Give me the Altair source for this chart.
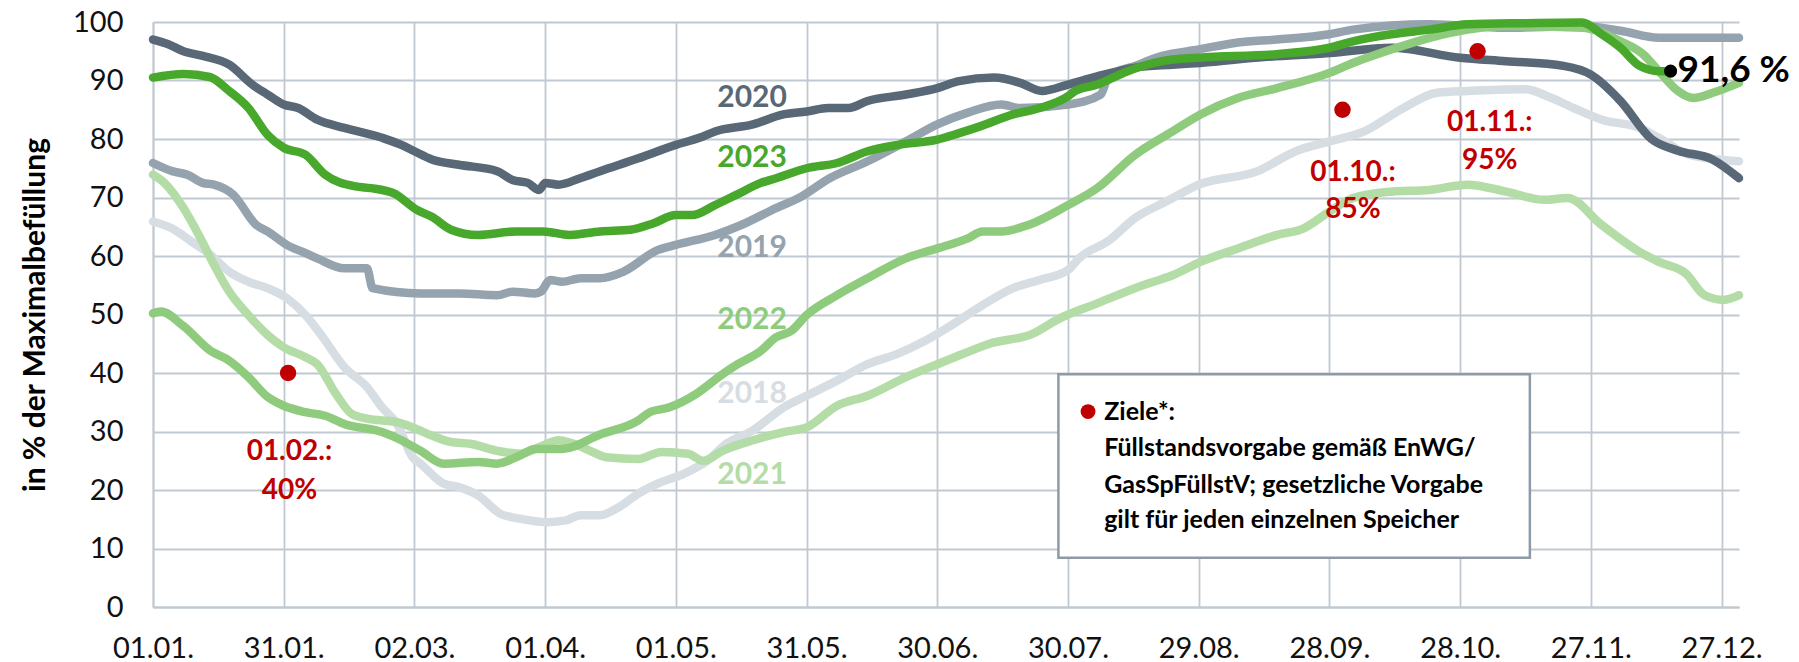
import altair as alt
import pandas as pd

# ---------------- data ----------------
years = ["2018", "2019", "2020", "2021", "2022", "2023"]
colors = ["#d6dde3", "#95a3ae", "#586876", "#b4dca6", "#8fcb7d", "#48a82b"]

days_2018 = [0, 4.4, 8.8, 13.2, 17.5, 21.9, 26.3, 30.7, 35, 38.6, 43.9, 49.1, 52.6, 56, 59.6, 61.4, 66.7, 70.2,
             74.6, 79.8, 84.2, 90.4, 94.7, 98.2, 102.6, 107, 111.4, 115.8, 121.9, 127.2, 131.6, 137.7, 144.7, 150,
             157, 164, 171, 177.2, 183.3, 190.4, 197.4, 203.5, 210, 212.5, 219.5, 225.4, 232.5, 240, 253.5, 262.3,
             270, 278, 287, 294.7, 301.7, 314.9, 321, 326, 332.5, 341.2, 345.6, 352.6, 364]
vals_2018 = [65.9, 64.7, 62.5, 60.2, 57.3, 55.6, 54.5, 52.8, 49.9, 46.5, 41, 37.6, 34.1, 31.3, 25.6, 24.5, 21.1, 20.5,
             19.1, 15.9, 15.1, 14.5, 14.8, 15.7, 15.7, 17.1, 19.4, 21.1, 22.8, 25, 27.9, 30.2, 34.1, 36.1,
             38.7, 41.5, 43.3, 45.5, 48.2, 51.6, 54.5, 55.9, 57.6, 59.6, 62.7, 66.5, 69.3, 72.2, 74.5, 77.9,
             79.6, 81.3, 85.3, 87.9, 88.2, 88.5, 87, 85.3, 83.3, 81.9, 80.2, 77.3, 76.2]

days_2019 = [0, 4.4, 7.9, 11.4, 14, 18.4, 23.7, 26.3, 30.7, 35, 37.7, 43.9, 49.1, 50.4, 61.4, 70.2, 79, 82.5, 87.7,
             89, 91.2, 93.9, 98.2, 102.6, 107.9, 115.8, 120, 129, 135, 143, 148.2, 155.3, 164, 172.8, 180, 187,
             194.7, 199, 210, 217.5, 219.3, 225.4, 231.6, 240, 249, 258, 270, 275.4, 293, 310.5, 328, 336.8,
             345.6, 354.4, 364]
vals_2019 = [75.9, 74.5, 73.9, 72.5, 72.2, 70.5, 65.3, 64.2, 61.9, 60.5, 59.6, 57.9, 57.9, 54.5, 53.6, 53.6, 53.3,
             53.9, 53.6, 53.9, 55.9, 55.6, 56.2, 56.2, 57.3, 61, 61.9, 63.6, 65.3, 68.2, 69.9, 73.3, 76.2, 79.6,
             82.5, 84.5, 85.9, 85.3, 85.9, 87.6, 90.7, 92.5, 94.2, 95.3, 96.5, 97, 97.9, 98.7, 99.6, 99, 99.3,
             98.5, 97.3, 97.3, 97.3]

days_2020 = [0, 3.5, 7, 11.4, 17.5, 22.8, 26.3, 30, 33.3, 37.7, 43.9, 52.6, 57, 60, 64, 70.2, 79, 82.5, 86, 88.6,
             90, 93, 98, 102.6, 111.4, 120, 125.4, 129, 137.7, 144.7, 150, 155, 159.6, 164, 172.8, 180, 185, 193,
             199, 204, 210, 216.7, 225.4, 234, 240.4, 255, 270, 284.2, 300, 310.5, 323.7, 330, 336.8, 343.9, 350,
             357.9, 364]
vals_2020 = [97, 96.2, 95, 94.2, 92.7, 89.3, 87.6, 85.9, 85.3, 83.3, 81.9, 80.2, 79, 77.9, 76.5, 75.6, 74.5, 73,
             72.5, 71.3, 72.5, 72.2, 73.3, 74.5, 76.7, 79, 80.2, 81.3, 82.5, 84.2, 84.7, 85.3, 85.3, 86.5, 87.6,
             88.7, 89.9, 90.5, 89.6, 88.2, 89.3, 90.7, 92.2, 92.7, 93, 94, 94.7, 95.6, 93.9, 93.3, 92.5, 91, 86.5,
             80, 78, 76.5, 73.3]

days_2021 = [0, 2.6, 7, 10.5, 14, 17.5, 21.9, 26.3, 30, 35, 37.7, 42, 45.6, 49.1, 56, 59.6, 64, 68.4, 72.8, 79,
             84.2, 89.5, 93, 96.5, 100.9, 104, 111.4, 116.7, 122.8, 126.3, 130.7, 137.7, 144.7, 150, 157, 164,
             172.8, 180, 186, 192, 201.8, 208, 216.7, 227.2, 234, 240.4, 249, 258, 264, 270, 275.4, 284.2, 293,
             301.7, 310.5, 319.3, 324.6, 332.5, 341.2, 345.6, 351.8, 356.1, 360.5, 364]
vals_2021 = [73.9, 72.5, 68.2, 63.6, 58.5, 53.9, 49.9, 46.5, 44.4, 42.7, 41.5, 36.4, 33, 32.2, 31.6, 30.7, 29.3,
             28.2, 27.9, 26.7, 26.2, 27.6, 28.5, 27.9, 26.5, 25.6, 25.3, 26.5, 26.2, 25, 26.7, 28.5, 29.9, 30.7,
             34.4, 36.1, 39.3, 41.5, 43.3, 45, 46.7, 49.3, 51.9, 55, 56.7, 59, 61.3, 63.6, 64.7, 67.6, 69.9, 71,
             71.3, 72.2, 71, 69.6, 69.9, 65.3, 60.7, 59, 57, 53.3, 52.5, 53.3]

days_2022 = [0, 1.8, 7, 13.2, 17.5, 21.9, 26.3, 30, 35, 39.5, 43.9, 52.6, 57, 61.4, 66.7, 74.6, 79, 84.2, 87.7,
             93.9, 102.6, 111.4, 114, 118.4, 124.6, 130.7, 134.2, 139.5, 143, 146.5, 150, 157, 164, 172.8, 180,
             187, 190.4, 194.7, 200.9, 210, 216.7, 225.4, 234, 240.4, 249, 258, 270, 275.4, 284.2, 293, 301.7,
             310.5, 328, 336.8, 342, 345.6, 350, 353.5, 358, 364]
vals_2022 = [50.2, 50.5, 48, 43.8, 42.1, 39.3, 35.9, 34.4, 33.3, 32.7, 31.3, 29.9, 28.5, 26.7, 24.5, 24.8, 24.5,
             25.9, 27, 27, 29.5, 31.9, 33.3, 34.1, 36.4, 39.8, 41.5, 43.8, 46.1, 47.2, 49.9, 53.3, 56.2, 59.6,
             61.3, 63, 64.2, 64.2, 65.3, 68.7, 71.6, 77.3, 81.3, 84.2, 87, 88.7, 91.3, 93, 95.3, 97.3, 98.7, 99.3,
             99, 96.7, 94.5, 91.6, 88.2, 87, 87.9, 89.6]

days_2023 = [0, 7, 13, 17.5, 21.9, 26.3, 30, 35, 39.5, 46.5, 50, 55.3, 60.5, 64, 68.4, 74.6, 83.3, 89.5, 95.6,
             102.6, 109.6, 114.9, 120, 123.7, 129, 134, 139.5, 143, 150, 157, 164, 171, 180, 185, 190, 197.4,
             203.5, 210, 211.6, 216.7, 223.7, 231.6, 240, 257.9, 270, 275.4, 284.2, 293, 301.7, 315, 328, 332.5,
             336.8, 341.2, 345.6, 348]
vals_2023 = [90.5, 91.1, 90.6, 88.2, 85.3, 80.7, 78.5, 77.3, 73.9, 71.9, 71.6, 70.7, 67.9, 66.7, 64.5, 63.6, 64.2,
             64.2, 63.6, 64.2, 64.5, 65.6, 67, 67, 68.7, 70.5, 72.5, 73.3, 75, 75.9, 77.9, 79, 79.9, 81, 82.2,
             84.2, 85.3, 87.3, 88.2, 89.3, 91.6, 93.3, 93.9, 94.5, 95.6, 96.7, 97.9, 98.7, 99.6, 99.8, 99.9, 97.9,
             95.6, 92.5, 91.6, 91.6]

series_days = [days_2018, days_2019, days_2020, days_2021, days_2022, days_2023]
series_vals = [vals_2018, vals_2019, vals_2020, vals_2021, vals_2022, vals_2023]

# x-axis tick labels (every 30 days)
xtick_days = [0, 30, 60, 90, 120, 150, 180, 210, 240, 270, 300, 330, 360]
xtick_labels = ["01.01.", "31.01.", "02.03.", "01.04.", "01.05.", "31.05.", "30.06.",
                "30.07.", "29.08.", "28.09.", "28.10.", "27.11.", "27.12."]

# year labels in the chart
label_years = ["2020", "2023", "2019", "2022", "2018", "2021"]
label_day = [137.5, 137.5, 137.5, 137.5, 137.5, 137.5]
label_val = [87.0, 76.7, 61.3, 49.0, 36.4, 22.5]

# targets (Ziele)
target_days = [31, 273, 304]
target_vals = [40, 85, 95]
target_text_1 = ["01.02.:", "01.10.:", "01.11.:"]
target_text_2 = ["40%", "85%", "95%"]
target_text_day = [31.3, 275.4, 306.8]
target_text_val1 = [26.5, 74.2, 82.7]
target_text_val2 = [19.9, 67.9, 76.2]

# current value
current_day = [348.3]
current_val = [91.6]
current_text = ["91,6 %"]

# legend box
legend_lines = ["Ziele*:", "Füllstandsvorgabe gemäß EnWG/",
                "GasSpFüllstV; gesetzliche Vorgabe", "gilt für jeden einzelnen Speicher"]
legend_line_vals = [33.4, 27.1, 20.9, 14.9]
legend_text_day = 218.3
legend_dot = (214.6, 33.4)
legend_box = (207.8, 316.0, 8.4, 39.8)

# ---------------- build tables ----------------
rows = []
for y, ds, vs in zip(years, series_days, series_vals):
    for d, v in zip(ds, vs):
        rows.append({"year": y, "day": d, "value": v})
df = pd.DataFrame(rows)

FONT = "Lato"
GRID = "#c0c9d1"
RED = "#c00000"

xscale = alt.Scale(domain=[0, 364], nice=False, zero=False)
yscale = alt.Scale(domain=[0, 100], nice=False)
cscale = alt.Scale(domain=years, range=colors)

label_expr = "[" + ",".join("'%s'" % s for s in xtick_labels) + "][round(datum.value/30)]"

base_x = alt.X("day:Q", scale=xscale,
               axis=alt.Axis(values=xtick_days, labelExpr=label_expr, title=None,
                             grid=True, ticks=False, labelPadding=27, labelFontSize=29,
                             labelFont=FONT, labelColor="#111111", labelFlush=False))
base_y = alt.Y("value:Q", scale=yscale,
               axis=alt.Axis(values=list(range(0, 101, 10)), title="in % der Maximalbefüllung",
                             grid=True, ticks=False, labelPadding=30, labelFontSize=29,
                             labelFont=FONT, labelColor="#111111",
                             titleFont=FONT, titleFontSize=30, titleFontWeight="bold",
                             titleColor="#000000", titlePadding=22))

# legend box rect
box_df = pd.DataFrame([{"x": legend_box[0], "x2": legend_box[1], "y": legend_box[2], "y2": legend_box[3]}])
box = alt.Chart(box_df).mark_rect(fill="white", stroke="#8e9aa5", strokeWidth=2.5).encode(
    x=alt.X("x:Q", scale=xscale), x2="x2:Q",
    y=alt.Y("y:Q", scale=yscale), y2="y2:Q")

lines = alt.Chart(df).mark_line(strokeWidth=8.5, interpolate="monotone", strokeCap="round",
                                strokeJoin="round").encode(
    x=base_x, y=base_y,
    color=alt.Color("year:N", scale=cscale, legend=None),
    order=alt.Order("day:Q"))

lab_df = pd.DataFrame({"year": label_years, "day": label_day, "value": label_val})
labels = alt.Chart(lab_df).mark_text(font=FONT, fontSize=30, fontWeight="bold", align="center",
                                     baseline="middle").encode(
    x=alt.X("day:Q", scale=xscale), y=alt.Y("value:Q", scale=yscale),
    text="year:N", color=alt.Color("year:N", scale=cscale, legend=None))

tgt_df = pd.DataFrame({"day": target_days, "value": target_vals})
targets = alt.Chart(tgt_df).mark_point(filled=True, shape="circle", size=270, color=RED, opacity=1).encode(
    x=alt.X("day:Q", scale=xscale), y=alt.Y("value:Q", scale=yscale))

tt_df = pd.DataFrame({"day": target_text_day * 2, "value": target_text_val1 + target_text_val2,
                      "t": target_text_1 + target_text_2})
target_texts = alt.Chart(tt_df).mark_text(font=FONT, fontSize=28, fontWeight="bold", color=RED,
                                          align="center", baseline="middle").encode(
    x=alt.X("day:Q", scale=xscale), y=alt.Y("value:Q", scale=yscale), text="t:N")

cur_df = pd.DataFrame({"day": current_day, "value": current_val, "t": current_text})
cur_dot = alt.Chart(cur_df).mark_point(filled=True, shape="circle", size=170, color="black", opacity=1).encode(
    x=alt.X("day:Q", scale=xscale), y=alt.Y("value:Q", scale=yscale))
cur_text = alt.Chart(cur_df).mark_text(font=FONT, fontSize=37, fontWeight="bold", color="black",
                                       align="left", baseline="middle", dx=7).encode(
    x=alt.X("day:Q", scale=xscale), y=alt.Y("value:Q", scale=yscale), text="t:N")

leg_df = pd.DataFrame({"day": [legend_text_day] * len(legend_lines), "value": legend_line_vals,
                       "t": legend_lines})
leg_text = alt.Chart(leg_df).mark_text(font=FONT, fontSize=25, fontWeight="bold", color="#000000",
                                       align="left", baseline="middle").encode(
    x=alt.X("day:Q", scale=xscale), y=alt.Y("value:Q", scale=yscale), text="t:N")
leg_dot_df = pd.DataFrame({"day": [legend_dot[0]], "value": [legend_dot[1]]})
leg_dot = alt.Chart(leg_dot_df).mark_point(filled=True, shape="circle", size=220, color=RED, opacity=1).encode(
    x=alt.X("day:Q", scale=xscale), y=alt.Y("value:Q", scale=yscale))

chart = alt.layer(lines, box, leg_dot, leg_text, labels, targets, target_texts, cur_dot, cur_text).properties(
    width=1586, height=585,
    autosize=alt.AutoSizeParams(type="none"),
    padding={"left": 145, "top": 14, "right": 52, "bottom": 55},
    background="white"
).configure_view(stroke=None).configure_axis(
    gridColor=GRID, gridWidth=1.8, domainColor=GRID, domainWidth=1.8, gridOpacity=1
)

chart.save("out.html", embed_options={"renderer": "svg", "actions": False})
